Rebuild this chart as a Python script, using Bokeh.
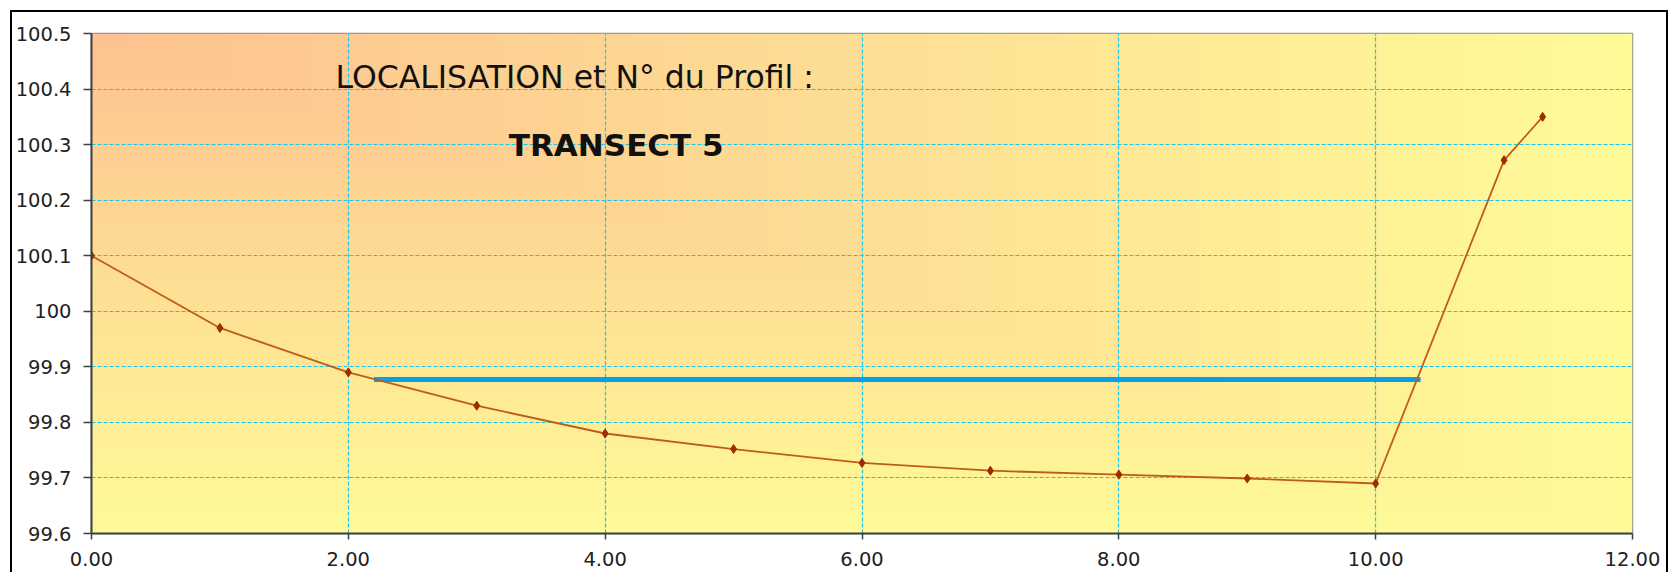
import numpy as np
from bokeh.plotting import figure
from bokeh.models import FixedTicker, NumeralTickFormatter, Label, Range1d
from bokeh.embed import file_html
from bokeh.resources import INLINE

# ---- data ----
distance = [0, 1, 2, 3, 4, 5, 6, 7, 8, 9, 10, 11, 11.3]
altitude = [100.10, 99.97, 99.89, 99.83, 99.78, 99.752, 99.727, 99.713, 99.706, 99.699, 99.69, 100.272, 100.35]
water_x = [2.2, 10.35]
water_y = [99.877, 99.877]
x_ticks = [0, 2, 4, 6, 8, 10, 12]
y_ticks = [99.6, 99.7, 99.8, 99.9, 100.0, 100.1, 100.2, 100.3, 100.4, 100.5]
y_tick_labels = ["99.6", "99.7", "99.8", "99.9", "100", "100.1", "100.2", "100.3", "100.4", "100.5"]
title_line1 = "LOCALISATION et N° du Profil :"
title_line2 = "TRANSECT 5"

FONT = "DejaVu Sans"

p = figure(width=1658, height=562, output_backend="svg", toolbar_location=None,
           x_range=Range1d(0, 12), y_range=Range1d(99.6, 100.5),
           min_border_left=78, min_border_right=38, min_border_top=21, min_border_bottom=41)
p.margin = (10, 0, 0, 10)
p.styles = {"border": "2px solid black", "border-bottom": "none"}
p.background_fill_color = "#FFFB99"
p.border_fill_color = "white"
p.outline_line_color = "#8c8c8c"
p.outline_line_width = 1.5

# gradient background (from top-left corner)
n = 240
u = np.linspace(0, 1, n)[None, :]
v = 1 - np.linspace(0, 1, n)[:, None]
t = np.maximum(u, v)
c0 = np.array([253, 194, 144])
c1 = np.array([255, 251, 153])
img = np.empty((n, n), dtype=np.uint32)
view = img.view(dtype=np.uint8).reshape((n, n, 4))
for k in range(3):
    view[:, :, k] = (c0[k] + (c1[k] - c0[k]) * t).astype(np.uint8)
view[:, :, 3] = 255
p.image_rgba(image=[img], x=0, y=99.6, dw=12, dh=0.9, level="image")

# grid
for g in (p.xgrid, p.ygrid):
    g.grid_line_color = "#19C6F0"
    g.grid_line_dash = "4 2"
    g.grid_line_width = 1.2
p.xgrid.ticker = FixedTicker(ticks=x_ticks)
p.ygrid.ticker = FixedTicker(ticks=y_ticks)

# axes
p.xaxis.ticker = FixedTicker(ticks=x_ticks)
p.xaxis.formatter = NumeralTickFormatter(format="0.00")
p.yaxis.ticker = FixedTicker(ticks=y_ticks)
p.yaxis.major_label_overrides = {tv: lab for tv, lab in zip(y_ticks, y_tick_labels)}
for ax in (p.xaxis, p.yaxis):
    ax.axis_line_color = "#404040"
    ax.axis_line_width = 2
    ax.major_tick_line_color = "#404040"
    ax.major_tick_line_width = 1.5
    ax.major_tick_in = 0
    ax.minor_tick_line_color = None
    ax.major_label_text_font = FONT
    ax.major_label_text_font_size = "19.5px"
    ax.major_label_text_color = "#222222"
p.yaxis.major_tick_out = 8
p.yaxis.major_label_standoff = 12
p.xaxis.major_tick_out = 6
p.xaxis.major_label_standoff = 12

# water level
p.line(water_x, water_y, line_color="#06A0E8", line_width=5)

# profile
p.line(distance, altitude, line_color="#BF5C18", line_width=1.8)
p.scatter(distance, altitude, marker="diamond", size=9, fill_color="#9A2E00", line_color="#9A2E00")

# titles
p.add_layout(Label(x=1.9, y=100.422, text=title_line1, text_font=FONT, text_font_size="31.5px",
                   text_baseline="middle", text_color="#111111"))
p.add_layout(Label(x=3.25, y=100.30, text=title_line2, text_font=FONT, text_font_size="31px",
                   text_font_style="bold", text_baseline="middle", text_color="#111111"))

open("out.html", "w").write(file_html(p, INLINE))
